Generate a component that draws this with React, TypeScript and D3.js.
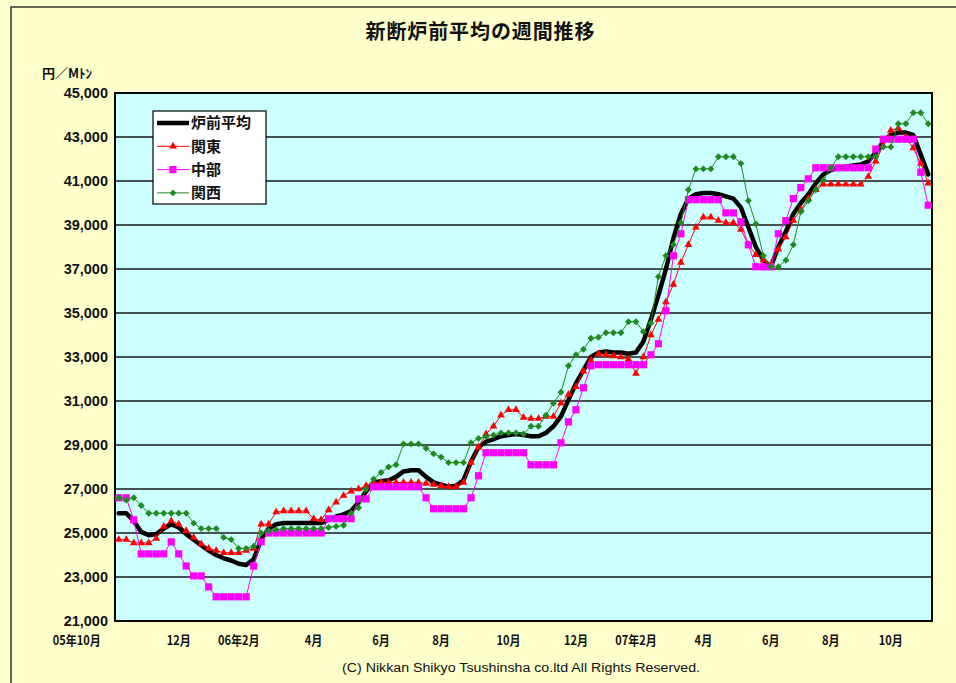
import { useEffect, useRef } from "react";
import * as d3 from "d3";

// weekly prices (円/Mトン), Oct 2005 - Nov 2007
const avgData = [
  25900, 25900, 25550, 25050, 24900, 24950, 25200, 25400, 25250, 24950,
  24700, 24450, 24200, 24000, 23850, 23750, 23600, 23550, 23800, 24700,
  25200, 25400, 25450, 25450, 25450, 25450, 25450, 25450, 25600, 25750,
  25850, 26000, 26400, 26900, 27300, 27350, 27400, 27550, 27800, 27850,
  27850, 27550, 27300, 27200, 27100, 27150, 27400, 28250, 28900, 29150,
  29260, 29400, 29450, 29500, 29450, 29400, 29400, 29550, 29850, 30300,
  31050, 31800, 32400, 33000, 33200, 33250, 33200, 33200, 33150, 33200,
  33700, 34700, 35800, 37000, 38400, 39500, 40200, 40400, 40450, 40450,
  40400, 40300, 40200, 39800, 38900, 38000, 37400, 37100, 38000, 38700,
  39500, 40000, 40400, 40900, 41300, 41500, 41600, 41650, 41700, 41750,
  41900, 42300, 42800, 43100, 43200, 43200, 43100, 42200, 41300,
];
const kantoData = [
  24700, 24700, 24550, 24550, 24550, 24750, 25300, 25550, 25400, 25100,
  24800, 24500, 24300, 24200, 24100, 24100, 24100, 24200, 24300, 25400,
  25400, 25950, 26000, 26000, 26000, 26000, 25650, 25600, 26050, 26400,
  26700, 26900, 27000, 27150, 27300, 27300, 27300, 27300, 27300, 27300,
  27300, 27250, 27200, 27150, 27100, 27100, 27300, 28200, 28900, 29500,
  29850, 30350, 30600, 30600, 30250, 30200, 30200, 30300, 30300, 30900,
  31300, 31650, 32350, 32850, 33150, 33100, 33050, 33000, 32900, 32250,
  33000, 34000, 34700, 35500, 36300, 37300, 38100, 38900, 39350, 39350,
  39200, 39100, 39100, 38800, 38100, 37650, 37400, 37200, 37900, 38450,
  39200, 39700, 40200, 40600, 40850, 40850, 40850, 40850, 40850, 40850,
  41200, 41900, 42600, 43300, 43400, 43000, 42500, 41800, 40900,
];
const chubuData = [
  26600, 26600, 25600, 24050, 24050, 24050, 24050, 24600, 24050, 23500,
  23050, 23050, 22550, 22100, 22100, 22100, 22100, 22100, 23500, 24600,
  25000, 25000, 25000, 25000, 25000, 25000, 25000, 25000, 25650, 25650,
  25650, 25650, 26550, 26550, 27100, 27100, 27100, 27100, 27100, 27100,
  27100, 26600, 26100, 26100, 26100, 26100, 26100, 26600, 27600, 28650,
  28650, 28650, 28650, 28650, 28650, 28100, 28100, 28100, 28100, 29100,
  30050, 30600, 31600, 32600, 32650, 32650, 32650, 32650, 32650, 32650,
  32650, 33100, 33600, 35100, 37600, 38600, 40150, 40150, 40150, 40150,
  40150, 39550, 39550, 39150, 38100, 37100, 37100, 37100, 38600, 39200,
  40200, 40700, 41100, 41600, 41600, 41600, 41600, 41600, 41600, 41600,
  41600, 42450, 42900, 42900, 42900, 42900, 42900, 41400, 39900,
];
const kansaiData = [
  26600, 26500, 26600, 26250, 25900, 25900, 25900, 25900, 25900, 25900,
  25450, 25200, 25200, 25200, 24800, 24700, 24300, 24300, 24400, 25000,
  25100, 25150, 25200, 25200, 25200, 25200, 25200, 25200, 25250, 25300,
  25350, 25900, 26150, 27000, 27450, 27750, 28000, 28100, 29050, 29050,
  29050, 28850, 28600, 28450, 28200, 28200, 28200, 29100, 29300, 29380,
  29450, 29550, 29550, 29550, 29500, 29850, 29850, 30350, 30900, 31400,
  32600, 33100, 33350, 33850, 33900, 34100, 34100, 34100, 34600, 34600,
  34150, 34550, 36650, 37600, 38100, 39100, 40600, 41550, 41550, 41550,
  42100, 42100, 42100, 41800, 40100, 39050, 37600, 37100, 37100, 37400,
  38100, 39600, 40100, 40600, 41050, 41600, 42100, 42100, 42100, 42100,
  42100, 42100, 42550, 42550, 43600, 43600, 44100, 44100, 43600,
];

const seriesNames = ["炉前平均", "関東", "中部", "関西"];
const xTickLabels = ["05年10月", "12月", "06年2月", "4月", "6月", "8月", "10月", "12月", "07年2月", "4月", "6月", "8月", "10月"];
const xTickWeeks = [0, 8, 16, 26, 35, 43, 52, 61, 69, 78, 87, 95, 103];
const yTicks = [21000, 23000, 25000, 27000, 29000, 31000, 33000, 35000, 37000, 39000, 41000, 43000, 45000];

const W = 956;
const H = 683;
const plot = { left: 115, right: 932, top: 93, bottom: 621 };

function App() {
  const svgRef = useRef<SVGSVGElement | null>(null);

  useEffect(() => {
    if (!svgRef.current) return;
    const svg = d3.select(svgRef.current);
    svg.selectAll("*").remove();

    const n = avgData.length;
    const x = d3.scalePoint<number>().domain(d3.range(n)).range([plot.left, plot.right]).padding(0.5);
    const y = d3.scaleLinear().domain([21000, 45000]).range([plot.bottom, plot.top]);

    // page background + frame
    svg.append("rect").attr("width", W).attr("height", H).attr("fill", "#ffffcc");
    svg.append("rect").attr("x", 11).attr("y", 7).attr("width", 980).attr("height", 720)
      .attr("fill", "none").attr("stroke", "#333").attr("stroke-width", 1.5);

    svg.append("text").attr("x", 480).attr("y", 39).attr("text-anchor", "middle")
      .attr("font-family", "'Noto Sans CJK JP', sans-serif").attr("font-weight", "bold")
      .attr("font-size", 20).attr("fill", "#111").attr("textLength", 229)
      .text("新断炉前平均の週間推移");

    svg.append("text").attr("x", 42).attr("y", 78)
      .attr("font-family", "'Noto Sans CJK JP', sans-serif").attr("font-weight", "bold")
      .attr("font-size", 13).attr("fill", "#111").text("円／Mﾄﾝ");

    // plot area
    svg.append("rect").attr("x", plot.left).attr("y", plot.top)
      .attr("width", plot.right - plot.left).attr("height", plot.bottom - plot.top)
      .attr("fill", "#ccffff");

    svg.append("g").selectAll("line").data(yTicks).enter().append("line")
      .attr("x1", plot.left).attr("x2", plot.right)
      .attr("y1", (d) => y(d)).attr("y2", (d) => y(d))
      .attr("stroke", "#1a1a1a").attr("stroke-width", 1.6);

    svg.append("rect").attr("x", plot.left).attr("y", plot.top)
      .attr("width", plot.right - plot.left).attr("height", plot.bottom - plot.top)
      .attr("fill", "none").attr("stroke", "#000").attr("stroke-width", 2);

    // y labels
    svg.append("g").selectAll("text").data(yTicks).enter().append("text")
      .attr("x", 108).attr("y", (d) => y(d)).attr("dy", "0.36em")
      .attr("text-anchor", "end").attr("font-family", "'Liberation Sans', Arial, sans-serif")
      .attr("font-weight", "bold").attr("font-size", 14.5).attr("fill", "#111")
      .text((d) => d3.format(",")(d));

    // x labels (slightly condensed, like the original)
    svg.append("g").selectAll("text").data(xTickLabels).enter().append("text")
      .attr("transform", (d, i) => {
        const px = i === 0 ? x(xTickWeeks[i])! - 18 : x(xTickWeeks[i])!;
        return `translate(${px},645) scale(0.85,1)`;
      })
      .attr("text-anchor", (d, i) => (i === 0 ? "end" : "middle"))
      .attr("font-family", "'Noto Sans CJK JP', sans-serif").attr("font-weight", "bold")
      .attr("font-size", 13).attr("fill", "#111")
      .text((d) => d);

    svg.append("text").attr("x", 521).attr("y", 672).attr("text-anchor", "middle")
      .attr("font-family", "'Liberation Sans', Arial, sans-serif").attr("font-size", 12.5)
      .attr("fill", "#111").attr("textLength", 358).attr("lengthAdjust", "spacingAndGlyphs")
      .text("(C) Nikkan Shikyo Tsushinsha co.ltd All Rights Reserved.");

    const line = d3.line<number>().x((d, i) => x(i)!).y((d) => y(d));

    const series = [
      { name: seriesNames[0], data: avgData, color: "#000000", width: 4.5, symbol: null as d3.SymbolType | null, size: 0, rotate: 0 },
      { name: seriesNames[1], data: kantoData, color: "#ff0000", width: 1, symbol: d3.symbolTriangle, size: 26, rotate: 0 },
      { name: seriesNames[2], data: chubuData, color: "#ff00ff", width: 1, symbol: d3.symbolSquare, size: 52, rotate: 0 },
      { name: seriesNames[3], data: kansaiData, color: "#1f8a1f", width: 1, symbol: d3.symbolSquare, size: 24, rotate: 45 },
    ];

    const lines = svg.append("g");
    series.forEach((s) => {
      lines.append("path").datum(s.data).attr("d", line).attr("fill", "none")
        .attr("stroke", s.color).attr("stroke-width", s.width)
        .attr("stroke-linejoin", "round").attr("stroke-linecap", "round");
      if (s.symbol) {
        const sym = d3.symbol().type(s.symbol).size(s.size);
        lines.append("g").selectAll("path").data(s.data).enter().append("path")
          .attr("d", sym()!)
          .attr("transform", (d, i) => `translate(${x(i)},${y(d)}) rotate(${s.rotate})`)
          .attr("fill", s.color);
      }
    });

    // legend
    const lg = svg.append("g").attr("transform", "translate(153,111)");
    lg.append("rect").attr("width", 113).attr("height", 93).attr("fill", "#fff")
      .attr("stroke", "#000").attr("stroke-width", 1.2);
    series.forEach((s, i) => {
      const ly = 12 + i * 23.3;
      lg.append("line").attr("x1", 4).attr("x2", 36).attr("y1", ly).attr("y2", ly)
        .attr("stroke", s.color).attr("stroke-width", s.width);
      if (s.symbol) {
        lg.append("path").attr("d", d3.symbol().type(s.symbol).size(s.size)()!)
          .attr("transform", `translate(20,${ly}) rotate(${s.rotate})`).attr("fill", s.color);
      }
      lg.append("text").attr("x", 38).attr("y", ly).attr("dy", "0.36em")
        .attr("font-family", "'Noto Sans CJK JP', sans-serif").attr("font-weight", "bold")
        .attr("font-size", 15).attr("fill", "#111").text(s.name);
    });

    return () => {
      d3.select(svgRef.current).selectAll("*").remove();
    };
  }, []);

  return <svg ref={svgRef} width={W} height={H} style={{ position: "absolute", left: 0, top: 0 }}></svg>;
}

export default App;
